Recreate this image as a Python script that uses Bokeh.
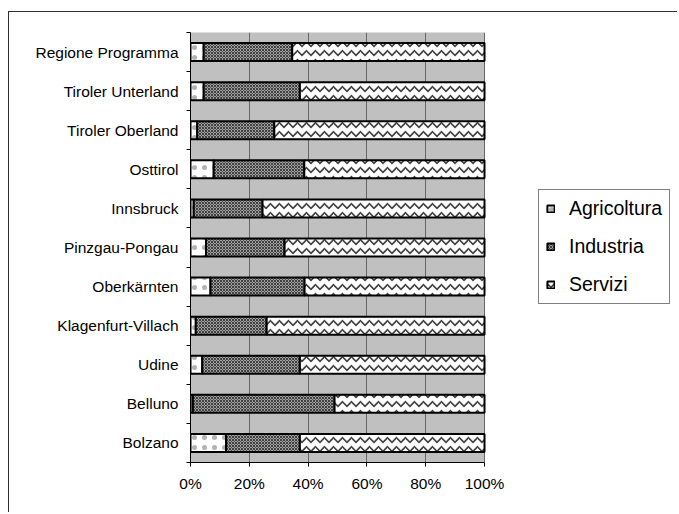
import numpy as np
from bokeh.plotting import figure
from bokeh.models import (ColumnDataSource, Range1d, FixedTicker, NumeralTickFormatter,
                          Legend, LegendItem, BoxAnnotation)
from bokeh.embed import file_html
from bokeh.resources import INLINE

# categories, top to bottom as in the chart
categories = ["Regione Programma", "Tiroler Unterland", "Tiroler Oberland", "Osttirol",
              "Innsbruck", "Pinzgau-Pongau", "Oberkärnten", "Klagenfurt-Villach",
              "Udine", "Belluno", "Bolzano"]
agricoltura = [4.5, 4.5, 2.3, 7.9, 1.1, 5.3, 6.8, 1.8, 4.0, 0.8, 12.1]
industria = [30.1, 32.7, 26.2, 30.8, 23.4, 26.7, 32.0, 24.1, 33.2, 48.2, 25.1]
servizi = [65.4, 62.8, 71.5, 61.3, 75.5, 68.0, 61.2, 74.1, 62.8, 51.0, 62.8]
series_names = ["Agricoltura", "Industria", "Servizi"]
x_ticks = [0, 0.2, 0.4, 0.6, 0.8, 1.0]

n = len(categories)
ypos = [n - 1 - i + 0.5 for i in range(n)]
a = np.array(agricoltura); b = np.array(industria); c = np.array(servizi)
tot = a + b + c
c1 = a / tot
c2 = (a + b) / tot
c3 = np.ones(n)
src = ColumnDataSource(dict(y=ypos, l0=np.zeros(n), r0=c1, l1=c1, r1=c2, l2=c2, r2=c3))

FONT = "Liberation Sans"
# the frame extends to the right to host the legend; the plot area covers x in [0, 1]
p = figure(width=669, height=501, output_backend="svg", toolbar_location=None,
           x_range=Range1d(0, 1.653), y_range=Range1d(0, n),
           min_border_left=181, min_border_top=20, min_border_right=2, min_border_bottom=51)
p.styles = {"border-left": "1px solid #303030", "border-top": "1px solid #303030",
            "position": "relative", "left": "8px", "top": "11px"}
p.background_fill_color = "white"
p.border_fill_color = "white"
p.outline_line_color = None

plot_area = BoxAnnotation(left=0, right=1, fill_color="#c0c0c0", fill_alpha=1,
                          line_color="#808080", line_width=1, level="image")
p.add_layout(plot_area)

p.xgrid.ticker = FixedTicker(ticks=x_ticks)
p.xgrid.grid_line_color = "#666666"
p.xgrid.grid_line_width = 1
p.ygrid.grid_line_color = None

r0 = p.hbar(y="y", left="l0", right="r0", height=0.46, source=src,
            fill_color="white", line_color="black", line_width=2,
            hatch_pattern=".", hatch_scale=10, hatch_color="black", hatch_alpha=0.3)
r1 = p.hbar(y="y", left="l1", right="r1", height=0.46, source=src,
            fill_color="#a0a0a0", line_color="black", line_width=2,
            hatch_pattern="x", hatch_scale=3, hatch_color="#404040", hatch_weight=1)
r2 = p.hbar(y="y", left="l2", right="r2", height=0.46, source=src,
            fill_color="white", line_color="black", line_width=2,
            hatch_pattern="v", hatch_scale=9, hatch_color="#404040", hatch_weight=1.6)

# axes
p.xaxis.ticker = FixedTicker(ticks=x_ticks)
p.xaxis.bounds = (0, 1)
p.xaxis.formatter = NumeralTickFormatter(format="0%")
p.xaxis.major_tick_out = 4
p.xaxis.major_tick_in = 0
p.xaxis.minor_tick_out = 0
p.xaxis.minor_tick_in = 0
p.xaxis.axis_line_color = "black"
p.xaxis.major_tick_line_color = "black"
p.xaxis.major_label_standoff = 8
p.xaxis.major_label_text_font = FONT
p.xaxis.major_label_text_font_size = "15.5px"
p.xaxis.major_label_text_color = "black"

p.yaxis.ticker = FixedTicker(ticks=ypos, minor_ticks=list(range(n + 1)))
p.yaxis.major_label_overrides = {y: cat for y, cat in zip(ypos, categories)}
p.yaxis.major_tick_out = 0
p.yaxis.major_tick_in = 0
p.yaxis.minor_tick_out = 4
p.yaxis.minor_tick_in = 0
p.yaxis.minor_tick_line_color = "black"
p.yaxis.axis_line_color = "black"
p.yaxis.major_label_standoff = 8
p.yaxis.major_label_text_font = FONT
p.yaxis.major_label_text_font_size = "15.5px"
p.yaxis.major_label_text_color = "black"

legend = Legend(items=[LegendItem(label=series_names[0], renderers=[r0]),
                       LegendItem(label=series_names[1], renderers=[r1]),
                       LegendItem(label=series_names[2], renderers=[r2])],
                location=(348, 158))
legend.border_line_color = "black"
legend.border_line_width = 1
legend.background_fill_color = "white"
legend.background_fill_alpha = 1
legend.label_text_font = FONT
legend.label_text_font_size = "19.5px"
legend.label_text_color = "black"
legend.glyph_width = 9
legend.glyph_height = 9
legend.label_height = 22
legend.label_standoff = 14
legend.spacing = 15
legend.padding = 7
legend.margin = 0
p.add_layout(legend, "center")

open("out.html", "w").write(file_html(p, INLINE))
